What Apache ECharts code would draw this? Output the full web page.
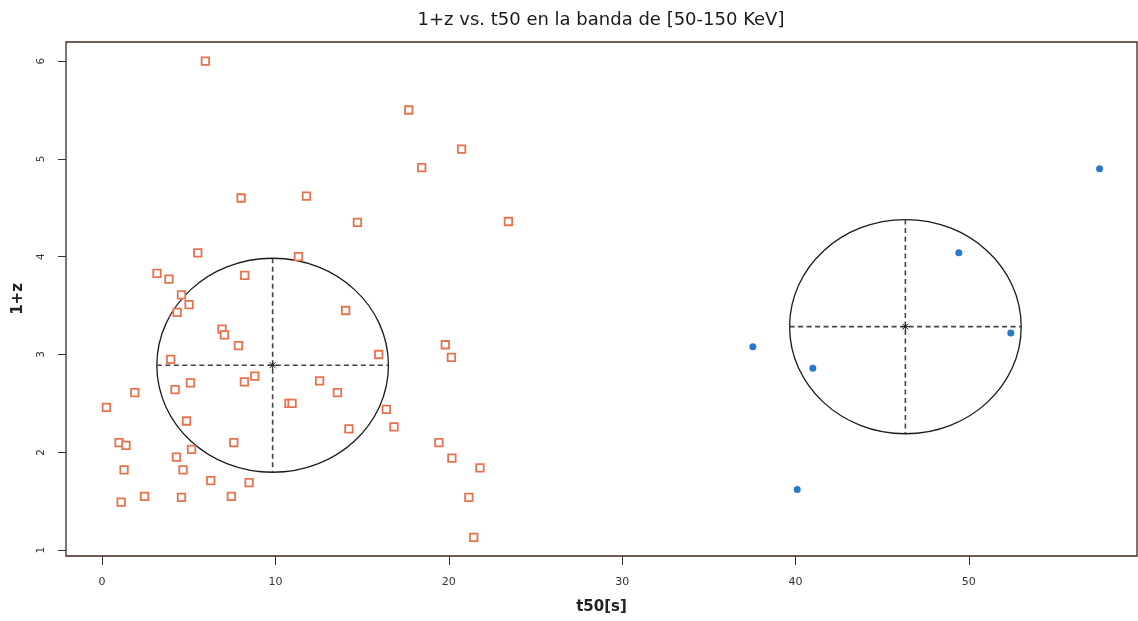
<!DOCTYPE html>
<html>
<head>
<meta charset="utf-8">
<title>1+z vs. t50</title>
<script src="https://cdn.jsdelivr.net/npm/echarts@6/dist/echarts.min.js"></script>
<style>
  html, body { margin: 0; padding: 0; background: #ffffff; }
  #chart { width: 1138px; height: 621px; }
</style>
</head>
<body>
<div id="chart"></div>
<script>
// Group 1 (open squares): t50 [s] and 1+z
const t50GroupA = [5.96, 17.69, 20.74, 18.44, 11.79, 8.02, 14.73, 23.44, 5.52, 11.33,
  3.17, 3.86, 8.23, 4.58, 5.02, 4.33, 14.05, 6.92, 7.06, 7.87,
  15.96, 3.96, 19.80, 20.15, 8.81, 8.21, 5.10, 4.21, 1.89, 12.55,
  13.58, 0.25, 10.78, 10.96, 4.87, 16.40, 14.24, 16.84, 0.98, 1.38,
  7.60, 5.16, 4.29, 19.43, 20.18, 21.80, 1.27, 4.67, 6.27, 8.48,
  2.45, 4.58, 7.46, 1.10, 21.16, 21.44];
const zGroupA = [6.00, 5.50, 5.10, 4.91, 4.62, 4.60, 4.35, 4.36, 4.04, 4.00,
  3.83, 3.77, 3.81, 3.61, 3.51, 3.43, 3.45, 3.26, 3.20, 3.09,
  3.00, 2.95, 3.10, 2.97, 2.78, 2.72, 2.71, 2.64, 2.61, 2.73,
  2.61, 2.46, 2.50, 2.50, 2.32, 2.44, 2.24, 2.26, 2.10, 2.07,
  2.10, 2.03, 1.95, 2.10, 1.94, 1.84, 1.82, 1.82, 1.71, 1.69,
  1.55, 1.54, 1.55, 1.49, 1.54, 1.13];

// Group 2 (filled dots)
const t50GroupB = [57.54, 49.42, 52.42, 37.54, 41.00, 40.10];
const zGroupB = [4.90, 4.04, 3.22, 3.08, 2.86, 1.62];

// Dispersion ellipses: centre (t50, 1+z) and half-axes
const ellipseCenterT50 = [9.84, 46.34];
const ellipseCenterZ = [2.89, 3.285];
const ellipseRadiusT50 = [6.68, 6.68];
const ellipseRadiusZ = [1.094, 1.095];

// Axis ticks
const xTicks = [0, 10, 20, 30, 40, 50];
const yTicks = [1, 2, 3, 4, 5, 6];

const pointsA = t50GroupA.map((t, i) => [t, zGroupA[i]]);
const pointsB = t50GroupB.map((t, i) => [t, zGroupB[i]]);
const ellipses = ellipseCenterT50.map((cx, i) =>
  [cx, ellipseCenterZ[i], ellipseRadiusT50[i], ellipseRadiusZ[i]]);

const FONT = 'DejaVu Sans';

function renderEllipse(params, api) {
  const c = api.coord([api.value(0), api.value(1)]);
  const r = api.size([api.value(2), api.value(3)]);
  const rx = r[0], ry = r[1];
  const dash = { stroke: '#444', lineWidth: 1.6, lineDash: [5, 3.5] };
  const star = { stroke: '#222', lineWidth: 1 };
  const a = 4, d = 3;
  return {
    type: 'group',
    children: [
      { type: 'ellipse', shape: { cx: c[0], cy: c[1], rx: rx, ry: ry },
        style: { fill: null, stroke: '#1a1a1a', lineWidth: 1.3 } },
      { type: 'line', shape: { x1: c[0] - rx, y1: c[1], x2: c[0] + rx, y2: c[1] }, style: dash },
      { type: 'line', shape: { x1: c[0], y1: c[1] - ry, x2: c[0], y2: c[1] + ry }, style: dash },
      { type: 'line', shape: { x1: c[0] - a, y1: c[1], x2: c[0] + a, y2: c[1] }, style: star },
      { type: 'line', shape: { x1: c[0], y1: c[1] - a, x2: c[0], y2: c[1] + a }, style: star },
      { type: 'line', shape: { x1: c[0] - d, y1: c[1] - d, x2: c[0] + d, y2: c[1] + d }, style: star },
      { type: 'line', shape: { x1: c[0] - d, y1: c[1] + d, x2: c[0] + d, y2: c[1] - d }, style: star }
    ]
  };
}

const chart = echarts.init(document.getElementById('chart'), null, { renderer: 'canvas' });
chart.setOption({
  animation: false,
  backgroundColor: '#ffffff',
  title: {
    text: '1+z vs. t50 en la banda de [50-150 KeV]',
    left: 596,
    top: 6,
    textAlign: 'center',
    textStyle: { fontFamily: FONT, fontSize: 18, fontWeight: 'normal', color: '#1a1a1a' }
  },
  grid: {
    left: 66, right: 1, top: 42, bottom: 65,
    show: true, borderColor: '#3e2820', borderWidth: 1.3, backgroundColor: '#ffffff'
  },
  xAxis: {
    type: 'value',
    min: -2.08, max: 59.7,
    name: 't50[s]',
    nameLocation: 'middle',
    nameGap: 44,
    nameTextStyle: { fontFamily: FONT, fontSize: 15, fontWeight: 'bold', color: '#222' },
    axisLine: { show: false, onZero: false },
    splitLine: { show: false },
    axisTick: { show: true, length: 9, customValues: xTicks, lineStyle: { color: '#333', width: 1 } },
    axisLabel: { customValues: xTicks, margin: 21, fontFamily: FONT, fontSize: 11, color: '#333' }
  },
  yAxis: {
    type: 'value',
    min: 0.94, max: 6.195,
    name: '1+z',
    nameLocation: 'middle',
    nameGap: 40,
    nameTextStyle: { fontFamily: FONT, fontSize: 15, fontWeight: 'bold', color: '#222' },
    axisLine: { show: false, onZero: false },
    splitLine: { show: false },
    axisTick: { show: true, length: 8, customValues: yTicks, lineStyle: { color: '#333', width: 1 } },
    axisLabel: { customValues: yTicks, rotate: 90, margin: 19, fontFamily: FONT, fontSize: 10.5, color: '#333' }
  },
  series: [
    {
      type: 'custom',
      name: 'ellipses',
      data: ellipses,
      renderItem: renderEllipse,
      z: 1,
      silent: true
    },
    {
      type: 'scatter',
      name: 'A',
      data: pointsA,
      symbol: 'rect',
      symbolSize: 7.5,
      itemStyle: { color: '#ffffff', borderColor: '#e6734e', borderWidth: 1.8, opacity: 1 },
      z: 3
    },
    {
      type: 'scatter',
      name: 'B',
      data: pointsB,
      symbol: 'circle',
      symbolSize: 7,
      itemStyle: { color: '#2a78cc', opacity: 1 },
      z: 3
    }
  ]
});
</script>
</body>
</html>
